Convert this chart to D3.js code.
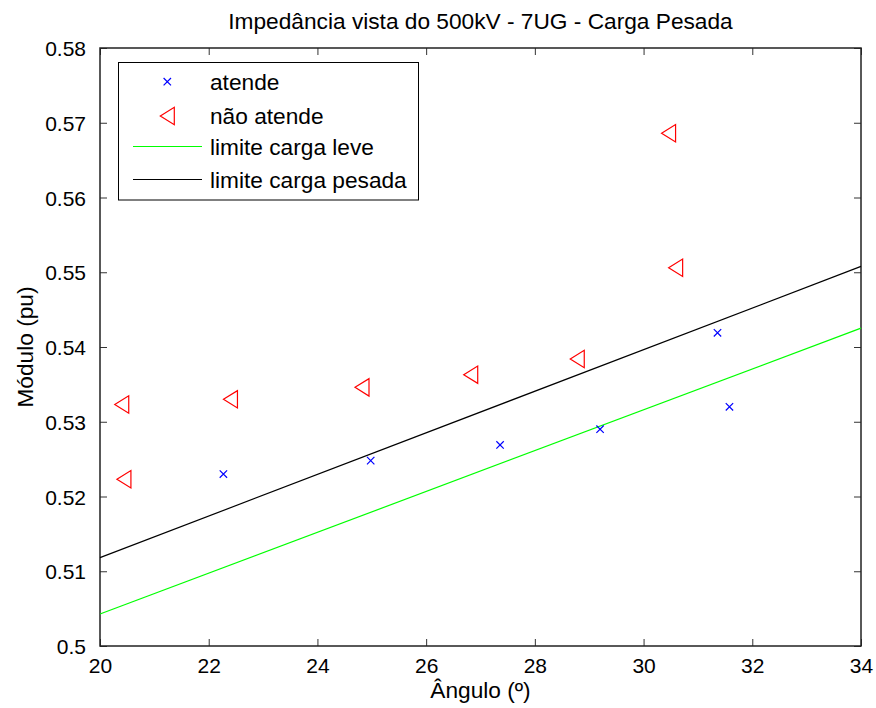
<!DOCTYPE html>
<html><head><meta charset="utf-8">
<script src="https://cdn.jsdelivr.net/npm/d3@7"></script>
<style>body{margin:0;background:#fff}svg{display:block}text{font-family:"Liberation Sans",Arial,sans-serif;fill:#000}</style>
</head><body>
<script>
const atendeX = [22.27, 24.98, 27.36, 29.20, 31.36, 31.58];
const atendeY = [0.5230, 0.5248, 0.5269, 0.5290, 0.5419, 0.5320];
const naoAtendeX = [20.40, 20.44, 22.40, 24.82, 26.82, 28.78, 30.46, 30.59];
const naoAtendeY = [0.5323, 0.5223, 0.5330, 0.5346, 0.5363, 0.5384, 0.5686, 0.5506];
const leveX = [20, 34];
const leveY = [0.50428, 0.54253];
const pesadaX = [20, 34];
const pesadaY = [0.51182, 0.55078];
const xTicks = [20, 22, 24, 26, 28, 30, 32, 34];
const yTicks = [0.5, 0.51, 0.52, 0.53, 0.54, 0.55, 0.56, 0.57, 0.58];
const legendLabels = ["atende", "não atende", "limite carga leve", "limite carga pesada"];
const titleText = "Impedância vista do 500kV - 7UG - Carga Pesada";
const xLabel = "Ângulo (º)";
const yLabel = "Módulo (pu)";

const W = 876, H = 708;
const L = 100, R = 861, T = 48, B = 646;
const FS = 21, FL = 22.7;
const svg = d3.select("body").append("svg").attr("width", W).attr("height", H);
const x = d3.scaleLinear().domain([20, 34]).range([L, R]);
const y = d3.scaleLinear().domain([0.5, 0.58]).range([B, T]);

// axes
const tick = 7;
const gx = svg.append("g").attr("transform", `translate(0,${B})`)
  .call(d3.axisBottom(x).tickValues(xTicks).tickFormat(d3.format("d")).tickSizeInner(-tick).tickSizeOuter(0).tickPadding(12));
const gxt = svg.append("g").attr("transform", `translate(0,${T})`)
  .call(d3.axisTop(x).tickValues(xTicks).tickFormat("").tickSizeInner(-tick).tickSizeOuter(0));
const gy = svg.append("g").attr("transform", `translate(${L},0)`)
  .call(d3.axisLeft(y).tickValues(yTicks).tickFormat(d => d3.format(".2~f")(d)).tickSizeInner(-tick).tickSizeOuter(0).tickPadding(14));
const gyr = svg.append("g").attr("transform", `translate(${R},0)`)
  .call(d3.axisRight(y).tickValues(yTicks).tickFormat("").tickSizeInner(-tick).tickSizeOuter(0));
[gx, gxt, gy, gyr].forEach(g => {
  g.select(".domain").remove();
  g.selectAll(".tick line").attr("stroke", "#333").attr("stroke-width", 1);
  g.selectAll(".tick text").style("font-size", FS + "px").attr("fill", "#000");
});
gy.selectAll(".tick text").attr("dy", "0.36em");

svg.append("rect").attr("x", L).attr("y", T).attr("width", R - L).attr("height", B - T)
  .attr("fill", "none").attr("stroke", "#222").attr("stroke-width", 1.5);

// lines
const line = d3.line().x(d => x(d[0])).y(d => y(d[1]));
svg.append("path").datum(leveX.map((v, i) => [v, leveY[i]])).attr("d", line)
  .attr("stroke", "#00ff00").attr("stroke-width", 1.2).attr("fill", "none");
svg.append("path").datum(pesadaX.map((v, i) => [v, pesadaY[i]])).attr("d", line)
  .attr("stroke", "#000").attr("stroke-width", 1.2).attr("fill", "none");

// markers
const cross = (g, cx, cy, s) => g.append("path")
  .attr("d", `M${cx - s},${cy - s}L${cx + s},${cy + s}M${cx - s},${cy + s}L${cx + s},${cy - s}`)
  .attr("stroke", "#0000ff").attr("stroke-width", 1.2).attr("fill", "none");
const tri = (g, cx, cy) => g.append("path")
  .attr("d", `M${cx - 7},${cy}L${cx + 7},${cy - 8.7}L${cx + 7},${cy + 8.7}Z`)
  .attr("stroke", "#ff0000").attr("stroke-width", 1.2).attr("fill", "none");

const pts = svg.append("g");
atendeX.forEach((v, i) => cross(pts, x(v), y(atendeY[i]), 3.7));
naoAtendeX.forEach((v, i) => tri(pts, x(v), y(naoAtendeY[i])));

// legend
const lg = svg.append("g");
lg.append("rect").attr("x", 118.5).attr("y", 62.5).attr("width", 300).attr("height", 137.5)
  .attr("fill", "#fff").attr("stroke", "#000").attr("stroke-width", 1);
const ly = [81.7, 116, 146.5, 179.5];
cross(lg, 167.3, ly[0], 3.7);
tri(lg, 167.3, ly[1]);
lg.append("line").attr("x1", 133).attr("x2", 202).attr("y1", ly[2]).attr("y2", ly[2]).attr("stroke", "#00ff00").attr("stroke-width", 1.2);
lg.append("line").attr("x1", 133).attr("x2", 202).attr("y1", ly[3]).attr("y2", ly[3]).attr("stroke", "#000").attr("stroke-width", 1.2);
legendLabels.forEach((t, i) => lg.append("text").attr("x", 210).attr("y", ly[i]).attr("dy", "0.36em")
  .style("font-size", FL + "px").text(t));

// titles
svg.append("text").attr("x", (L + R) / 2).attr("y", 29).attr("text-anchor", "middle").style("font-size", FL + "px").text(titleText);
svg.append("text").attr("x", (L + R) / 2).attr("y", 698).attr("text-anchor", "middle").style("font-size", FL + "px").text(xLabel);
svg.append("text").attr("transform", `translate(33,${(T + B) / 2}) rotate(-90)`).attr("text-anchor", "middle").style("font-size", FL + "px").text(yLabel);
</script>
</body></html>
